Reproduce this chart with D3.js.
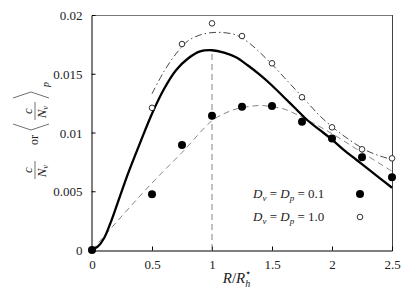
<!DOCTYPE html>
<html>
<head>
<meta charset="utf-8">
<script src="https://cdn.jsdelivr.net/npm/d3@7"></script>
<style>
  body { margin: 0; background: #fff; }
  svg { display: block; }
  text { font-family: "Liberation Serif", serif; fill: #222; }
</style>
</head>
<body>
<svg id="chart" width="415" height="291"></svg>
<script>
// measured points
var ptsX = [0, 0.5, 0.75, 1.0, 1.25, 1.5, 1.75, 2.0, 2.25, 2.5];
var filledY = [0, 0.00474, 0.00894, 0.01143, 0.0122, 0.01226, 0.01092, 0.0095, 0.00789, 0.00619];
var openX = [0.5, 0.75, 1.0, 1.25, 1.5, 1.75, 2.0, 2.25, 2.5];
var openY = [0.0121, 0.01753, 0.01929, 0.01821, 0.01589, 0.0130, 0.01044, 0.00857, 0.0078];

// model curves
var solidX = [0, 0.05, 0.1, 0.15, 0.2, 0.3, 0.4, 0.5, 0.6, 0.7, 0.8, 0.9, 1.0, 1.1, 1.2, 1.3, 1.4, 1.5, 1.6, 1.7, 1.8, 1.9, 2.0, 2.1, 2.2, 2.3, 2.4, 2.5];
var solidY = [0, 0.0003, 0.0010, 0.0022, 0.0036, 0.0065, 0.0091, 0.0116, 0.0137, 0.0153, 0.0163, 0.0169, 0.0170, 0.0168, 0.0164, 0.0157, 0.0149, 0.0140, 0.0130, 0.0120, 0.0110, 0.0102, 0.0094, 0.0085, 0.0077, 0.0069, 0.0061, 0.0053];
var dashDotX = [0.5, 0.6, 0.7, 0.8, 0.9, 1.0, 1.1, 1.2, 1.3, 1.4, 1.5, 1.6, 1.7, 1.8, 1.9, 2.0, 2.1, 2.2, 2.3, 2.4, 2.5];
var dashDotY = [0.0133, 0.0152, 0.0167, 0.0178, 0.0183, 0.0185, 0.0185, 0.0183, 0.0177, 0.0168, 0.0158, 0.0147, 0.0136, 0.0125, 0.0114, 0.0105, 0.0097, 0.0090, 0.0084, 0.0080, 0.0077];
var dashedX = [0, 0.25, 0.5, 0.75, 1.0, 1.1, 1.2, 1.3, 1.4, 1.5, 1.6, 1.75, 2.0, 2.25, 2.5];
var dashedY = [0, 0.0029, 0.0057, 0.0083, 0.0110, 0.0116, 0.0120, 0.0122, 0.0123, 0.0122, 0.0120, 0.0113, 0.0099, 0.0083, 0.0067];

var xTicks = [0, 0.5, 1, 1.5, 2, 2.5];
var xTickLabels = ["0", "0.5", "1", "1.5", "2", "2.5"];
var yTicks = [0, 0.005, 0.01, 0.015, 0.02];
var yTickLabels = ["0", "0.005", "0.01", "0.015", "0.02"];
var legendValues = ["0.1", "1.0"];

var svg = d3.select("#chart"),
	margin = {top: 15, right: 23, bottom: 41, left: 92},
	width = 415 - margin.left - margin.right,
	height = 291 - margin.top - margin.bottom;

var g = svg.append("g").attr("transform", "translate(" + margin.left + "," + margin.top + ")");

var x = d3.scaleLinear().domain([0, 2.5]).range([0, width]),
	y = d3.scaleLinear().domain([0, 0.02]).range([height, 0]);

function zip(xs, ys) { return xs.map(function(v, i) { return [v, ys[i]]; }); }

var line = d3.line()
	.curve(d3.curveCatmullRom.alpha(0.5))
	.x(function(d) { return x(d[0]); })
	.y(function(d) { return y(d[1]); });

// frame
g.append("line").attr("x1", 0).attr("x2", width).attr("y1", 0.5).attr("y2", 0.5)
	.attr("stroke", "#777").attr("stroke-width", 1);
g.append("line").attr("x1", width + 0.5).attr("x2", width + 0.5).attr("y1", 0).attr("y2", height)
	.attr("stroke", "#444").attr("stroke-width", 1);

// axes with inward ticks
var xAxis = g.append("g")
	.attr("transform", "translate(0," + (height + 0.5) + ")")
	.call(d3.axisBottom(x).tickValues(xTicks).tickSize(-4).tickPadding(9)
		.tickFormat(function(d, i) { return xTickLabels[i]; }));
var yAxis = g.append("g")
	.attr("transform", "translate(-0.5,0)")
	.call(d3.axisLeft(y).tickValues(yTicks).tickSize(-4).tickPadding(9)
		.tickFormat(function(d, i) { return yTickLabels[i]; }));

[xAxis, yAxis].forEach(function(a) {
	a.attr("font-family", null);
	a.select(".domain").attr("stroke", "#000");
	a.selectAll(".tick line").attr("stroke", "#000");
	a.selectAll(".tick text")
		.style("font-family", "'Liberation Serif', serif")
		.style("font-size", "13px")
		.attr("fill", "#333");
});
xAxis.selectAll(".tick").filter(function(d) { return d === 0 || d === 2.5; }).select("line").remove();
yAxis.selectAll(".tick").filter(function(d) { return d === 0 || d === 0.02; }).select("line").remove();
yAxis.selectAll(".tick text").attr("dy", "0.35em");

// vertical marker at R = R_h*
g.append("line")
	.attr("x1", x(1)).attr("x2", x(1))
	.attr("y1", y(0)).attr("y2", y(d3.max(solidY)))
	.attr("stroke", "#777").attr("stroke-width", 0.9)
	.attr("stroke-dasharray", "6,4");

// curves
g.append("path")
	.attr("d", line(zip(dashedX, dashedY)))
	.attr("fill", "none").attr("stroke", "#777").attr("stroke-width", 0.9)
	.attr("stroke-dasharray", "6,4");

g.append("path")
	.attr("d", line(zip(dashDotX, dashDotY)))
	.attr("fill", "none").attr("stroke", "#333").attr("stroke-width", 0.9)
	.attr("stroke-dasharray", "7,3,1.5,3");

g.append("path")
	.attr("d", line(zip(solidX, solidY)))
	.attr("fill", "none").attr("stroke", "#000").attr("stroke-width", 2.3);

// points
g.selectAll(".open").data(zip(openX, openY)).enter().append("circle")
	.attr("class", "open")
	.attr("cx", function(d) { return x(d[0]); })
	.attr("cy", function(d) { return y(d[1]); })
	.attr("r", 2.8)
	.attr("fill", "#fff").attr("stroke", "#000").attr("stroke-width", 0.8);

g.selectAll(".filled").data(zip(ptsX, filledY)).enter().append("circle")
	.attr("class", "filled")
	.attr("cx", function(d) { return x(d[0]); })
	.attr("cy", function(d) { return y(d[1]); })
	.attr("r", 4)
	.attr("fill", "#000");

// legend
var legend = g.selectAll(".legend").data(legendValues).enter().append("g")
	.attr("class", "legend")
	.attr("transform", function(d, i) { return "translate(161," + (198 - margin.top + i * 23) + ")"; });

legend.each(function(d, i) {
	var t = d3.select(this).append("text").style("font-size", "13px");
	t.append("tspan").style("font-style", "italic").text("D");
	t.append("tspan").style("font-style", "italic").style("font-size", "9px").attr("dy", 3).text("v");
	t.append("tspan").attr("dy", -3).text(" = ");
	t.append("tspan").style("font-style", "italic").text("D");
	t.append("tspan").style("font-style", "italic").style("font-size", "9px").attr("dy", 3).text("p");
	t.append("tspan").attr("dy", -3).text(" = " + d);
	var c = d3.select(this).append("circle").attr("cx", 107).attr("cy", -4);
	if (i === 0) c.attr("r", 4).attr("fill", "#000");
	else c.attr("r", 2.8).attr("fill", "#fff").attr("stroke", "#000").attr("stroke-width", 0.8);
});

// x label
var xl = svg.append("text")
	.attr("x", 237).attr("y", 283)
	.attr("text-anchor", "middle")
	.style("font-size", "15px");
xl.append("tspan").style("font-style", "italic").text("R");
xl.append("tspan").text("/");
xl.append("tspan").style("font-style", "italic").text("R");
xl.append("tspan").style("font-style", "italic").style("font-size", "10px").attr("dy", 4).text("h");
xl.append("tspan").style("font-size", "10px").attr("dx", -5).attr("dy", -11).text("\u22C6");

// y label, drawn horizontally then rotated
var yl = svg.append("g").attr("transform", "translate(35,180) rotate(-90)");
function frac(gg, cx) {
	gg.append("text").attr("x", cx).attr("y", -3).attr("text-anchor", "middle")
		.style("font-size", "13px").style("font-style", "italic").text("c");
	gg.append("line").attr("x1", cx - 9).attr("x2", cx + 9).attr("y1", 0).attr("y2", 0)
		.attr("stroke", "#333").attr("stroke-width", 0.7);
	var t = gg.append("text").attr("x", cx - 1).attr("y", 11).attr("text-anchor", "middle")
		.style("font-size", "13px").style("font-style", "italic");
	t.append("tspan").text("N");
	t.append("tspan").style("font-size", "9px").attr("dy", 2).text("v");
}
frac(yl, 10);
yl.append("text").attr("x", 40).attr("y", 3).attr("text-anchor", "middle")
	.style("font-size", "12px").text("or");
yl.append("path").attr("d", "M56,-22 L50,-4 L56,14")
	.attr("fill", "none").attr("stroke", "#333").attr("stroke-width", 0.7);
frac(yl, 69);
yl.append("path").attr("d", "M82,-22 L88,-4 L82,14")
	.attr("fill", "none").attr("stroke", "#333").attr("stroke-width", 0.7);
yl.append("text").attr("x", 93).attr("y", 14)
	.style("font-size", "10px").style("font-style", "italic").text("p");
</script>
</body>
</html>
